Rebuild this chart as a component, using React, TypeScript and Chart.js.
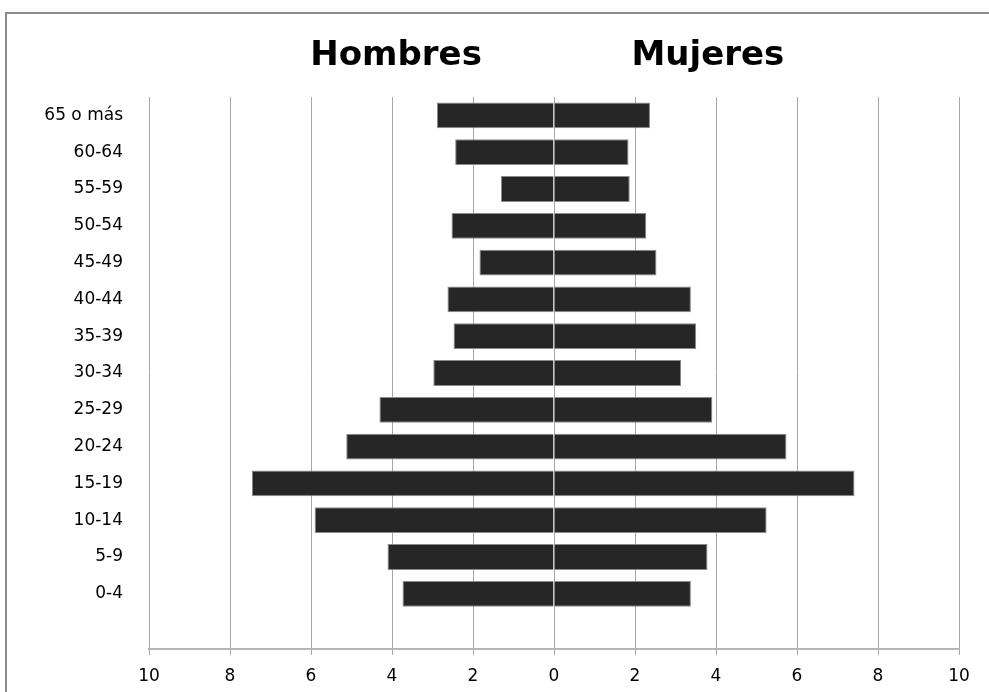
import React, { useEffect, useRef } from 'react';
import { Chart, registerables } from 'chart.js';

Chart.register(...registerables);

const categories = ['65 o más', '60-64', '55-59', '50-54', '45-49', '40-44', '35-39', '30-34', '25-29', '20-24', '15-19', '10-14', '5-9', '0-4', ''];
const hombres = [-2.89, -2.44, -1.31, -2.53, -1.84, -2.63, -2.48, -2.98, -4.31, -5.13, -7.46, -5.91, -4.11, -3.74, null];
const mujeres = [2.37, 1.84, 1.87, 2.28, 2.53, 3.38, 3.51, 3.14, 3.91, 5.74, 7.42, 5.25, 3.79, 3.38, null];
const seriesNames = ['Hombres', 'Mujeres'];
const xMin = -10;
const xMax = 10;
const xStep = 2;

const headerPlugin = {
  id: 'headers',
  afterDraw(chart: any) {
    const ctx = chart.ctx;
    const x = chart.scales.x;
    ctx.save();
    ctx.font = 'bold 34px "DejaVu Sans"';
    ctx.fillStyle = '#000';
    ctx.textAlign = 'center';
    ctx.textBaseline = 'middle';
    ctx.fillText(seriesNames[0], x.getPixelForValue(-3.9), 56);
    ctx.fillText(seriesNames[1], x.getPixelForValue(3.8), 56);
    ctx.restore();
  },
};

export default function App() {
  const ref = useRef<HTMLCanvasElement>(null);
  useEffect(() => {
    if (!ref.current) return;
    const chart = new Chart(ref.current, {
      type: 'bar',
      data: {
        labels: categories,
        datasets: [
          {
            label: seriesNames[0],
            data: hombres,
            backgroundColor: '#262626',
            borderColor: '#8a8a8a',
            borderWidth: 1,
            barPercentage: 0.7,
            categoryPercentage: 1,
          },
          {
            label: seriesNames[1],
            data: mujeres,
            backgroundColor: '#262626',
            borderColor: '#8a8a8a',
            borderWidth: 1,
            barPercentage: 0.7,
            categoryPercentage: 1,
          },
        ],
      },
      options: {
        indexAxis: 'y',
        responsive: false,
        animation: false,
        layout: { padding: { top: 97, right: 30, left: 0, bottom: 0 } },
        plugins: { legend: { display: false }, tooltip: { enabled: false }, title: { display: false } },
        scales: {
          x: {
            stacked: true,
            min: xMin,
            max: xMax,
            ticks: {
              stepSize: xStep,
              color: '#000',
              font: { family: 'DejaVu Sans', size: 17 },
              padding: 11,
              callback: (v: any) => String(Math.abs(Number(v))),
            },
            grid: { color: '#a6a6a6', lineWidth: 1, tickLength: 6, drawTicks: true },
            border: { display: true, color: '#b5b5b5', width: 2 },
            afterFit: (s: any) => { s.height = 43; },
          },
          y: {
            stacked: true,
            ticks: {
              color: '#000',
              font: { family: 'DejaVu Sans', size: 17 },
              padding: 26,
            },
            grid: { display: false, drawTicks: false },
            border: { display: false },
            afterFit: (s: any) => { s.width = 149; },
          },
        },
      },
      plugins: [headerPlugin],
    });
    return () => chart.destroy();
  }, []);

  return (
    <div style={{ position: 'fixed', left: 0, top: 0, width: 989, height: 692, background: '#fff', overflow: 'hidden' }}>
      <div style={{ position: 'absolute', left: 5, top: 12, width: 1000, height: 700, borderLeft: '2px solid #8c8c8c', borderTop: '2px solid #8c8c8c' }} />
      <canvas ref={ref} width={989} height={692} style={{ position: 'absolute', left: 0, top: 0 }} />
    </div>
  );
}
